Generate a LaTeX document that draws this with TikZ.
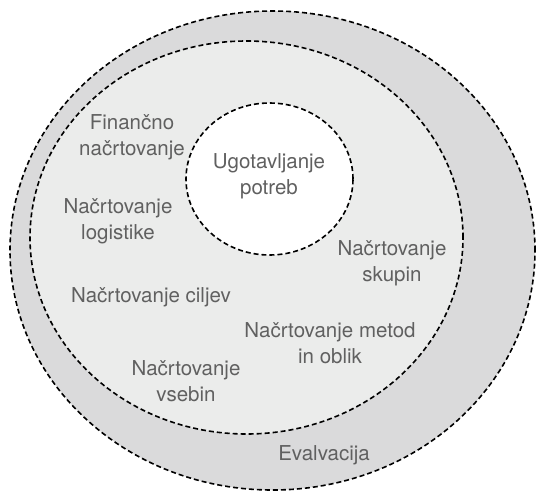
\documentclass[tikz,border=0pt]{standalone}
\usepackage{fontspec}
\setmainfont{TeX Gyre Heros}
\definecolor{outerfill}{HTML}{DADADB}
\definecolor{midfill}{HTML}{EBECEB}
\definecolor{txt}{HTML}{606060}
\begin{document}
\begin{tikzpicture}[x=1pt,y=-1pt,
  ring/.style={draw=black,line width=1.6pt,dash pattern=on 5pt off 3pt},
  lbl/.style={text=txt,align=center,font=\fontsize{20.5}{26}\selectfont,inner sep=0pt}]
\useasboundingbox (0,0) rectangle (537,492);
\filldraw[ring,fill=outerfill] (272.5,250.5) ellipse [x radius=262.5pt, y radius=239.5pt];
\filldraw[ring,fill=midfill] (246.5,237.5) ellipse [x radius=216.5pt, y radius=196.5pt];
\filldraw[ring,fill=white] (269.5,179) ellipse [x radius=83.5pt, y radius=76pt];
\node[lbl] (fin) at (132,137) {Finančno\\načrtovanje};
\node[lbl] (ugo) at (269,176) {Ugotavljanje\\potreb};
\node[lbl] (log) at (118,221) {Načrtovanje\\logistike};
\node[lbl] (sku) at (392,263.5) {Načrtovanje\\skupin};
\node[lbl] (cil) at (151,297) {Načrtovanje ciljev};
\node[lbl] (met) at (330,343) {Načrtovanje metod\\in oblik};
\node[lbl] (vse) at (186,381.5) {Načrtovanje\\vsebin};
\node[lbl] (eva) at (324,455) {Evalvacija};
\end{tikzpicture}
\end{document}
